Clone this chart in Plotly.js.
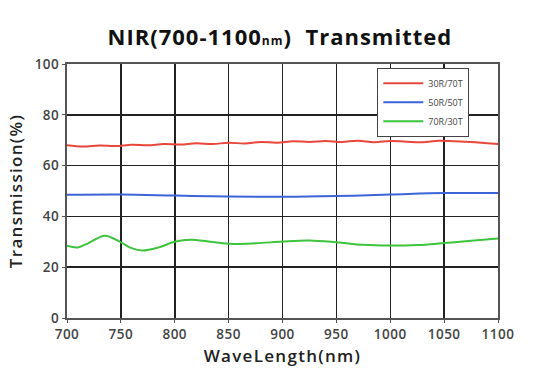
<!DOCTYPE html>
<html><head><meta charset="utf-8">
<script src="https://cdn.plot.ly/plotly-3.0.1.min.js"></script>
<style>html,body{margin:0;padding:0;background:#fff}#c{width:552px;height:390px}
.gtitle{letter-spacing:1px}
.xtitle,.ytitle{letter-spacing:1.3px}
.xtick text,.ytick text{letter-spacing:0.5px}
</style>
</head><body><div id="c"></div>
<script>
const redX = [700,715,730,745,760,775,790,805,820,835,850,865,880,895,910,925,940,955,970,985,1000,1015,1030,1045,1060,1075,1090,1100];
const redY = [68.0,67.5,67.9,67.7,68.2,68.0,68.5,68.3,68.8,68.5,69.0,68.7,69.3,69.0,69.6,69.3,69.7,69.3,69.8,69.2,69.7,69.4,69.2,69.8,69.6,69.3,68.8,68.5];
const blueX = [700,750,800,850,900,950,1000,1050,1100];
const blueY = [48.5,48.6,48.2,47.8,47.7,48.0,48.6,49.2,49.2];
const greenX = [700,710,720,735,750,760,770,785,800,815,830,850,875,900,925,950,975,1000,1025,1050,1075,1100];
const greenY = [28.5,27.8,29.5,32.4,29.8,27.5,26.6,27.8,30.0,30.8,30.2,29.2,29.4,30.1,30.5,29.8,28.8,28.5,28.7,29.5,30.4,31.3];
const names = ['30R/70T','50R/50T','70R/30T'];
const xTicks = [700,750,800,850,900,950,1000,1050,1100];
const yTicks = [0,20,40,60,80,100];

const traces = [
  {x:redX,y:redY,name:names[0],line:{color:'#e8473a',width:2,shape:'spline'}},
  {x:blueX,y:blueY,name:names[1],line:{color:'#3d63d8',width:2,shape:'spline'}},
  {x:greenX,y:greenY,name:names[2],line:{color:'#3cc43c',width:2,shape:'spline'}}
].map(t=>Object.assign({type:'scatter',mode:'lines',hoverinfo:'skip'},t));

const F = '"Open Sans", sans-serif';
const ax = {showline:true,linecolor:'#555',linewidth:2,mirror:true,showgrid:true,gridcolor:'#222',gridwidth:1.5,
  ticks:'outside',ticklen:3,tickcolor:'#555',zeroline:false,
  tickfont:{family:F,size:13.5,color:'#444',weight:600}};

const layout = {
  width:552,height:390,paper_bgcolor:'#fff',plot_bgcolor:'#fff',
  margin:{l:67,r:54,t:64,b:72},
  title:{text:'NIR(700-1100<span style="font-size:12px">nm</span>)  Transmitted',x:0.507,xanchor:'center',y:0.905,yanchor:'middle',
    font:{family:F,size:22,color:'#111',weight:700}},
  xaxis:Object.assign({},ax,{range:[700,1100],tickvals:xTicks,ticktext:xTicks.map(String),
    title:{text:'WaveLength(nm)',standoff:8,font:{family:F,size:17,color:'#222',weight:600}}}),
  yaxis:Object.assign({},ax,{range:[0,100],tickvals:yTicks,ticktext:yTicks.map(String),
    title:{text:'Transmission(%)',standoff:8,font:{family:F,size:17,color:'#222',weight:600}}}),
  showlegend:true,
  legend:{x:0.72,y:0.985,xanchor:'left',yanchor:'top',bgcolor:'#fff',bordercolor:'#444',borderwidth:1,
    font:{family:F,size:9,color:'#444'},itemwidth:40,tracegroupgap:0}
};
Plotly.newPlot('c',traces,layout,{staticPlot:true,displayModeBar:false});
</script></body></html>
